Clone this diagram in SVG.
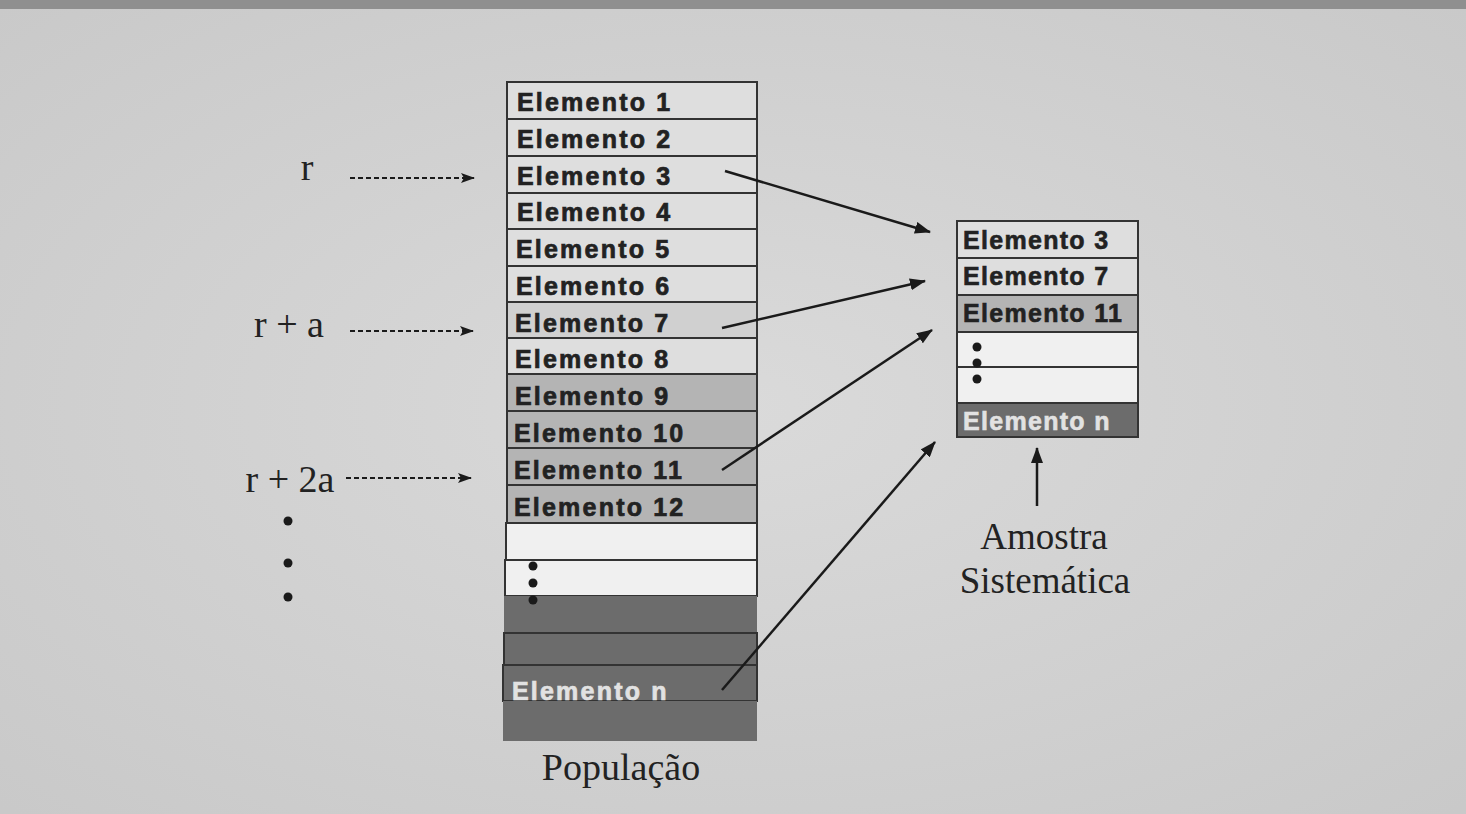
<svg xmlns="http://www.w3.org/2000/svg" width="1466" height="814" viewBox="0 0 1466 814">
<defs>
<style>
.el{font-family:"Liberation Sans",Arial,sans-serif;font-weight:bold;font-size:25px;letter-spacing:2.2px;fill:#222;stroke:#222;stroke-width:0.7}
.el2{font-family:"Liberation Sans",Arial,sans-serif;font-weight:bold;font-size:25px;letter-spacing:1.3px;fill:#222;stroke:#222;stroke-width:0.6}
.wt{fill:#e2e2e2;stroke:#e2e2e2}
.lab{font-family:"Liberation Serif","Times New Roman",serif;font-size:38px;fill:#222}
.row{stroke:#333;stroke-width:2}
.light{fill:#dedede}
.mid{fill:#b4b4b4}
.white{fill:#f0f0f0}
.dark{fill:#6c6c6c}
.dot{fill:#1a1a1a}
.conn{stroke:#1a1a1a;stroke-width:2.5;fill:none}
.dash{stroke:#1a1a1a;stroke-width:2.2;stroke-dasharray:5 3;fill:none}
</style>
<radialGradient id="bg" cx="0.5" cy="0.5" r="0.7">
<stop offset="0" stop-color="#dadada"/>
<stop offset="1" stop-color="#c9c9c9"/>
</radialGradient>
<marker id="ah" markerWidth="14" markerHeight="10" refX="13" refY="5" orient="auto" markerUnits="userSpaceOnUse" viewBox="0 0 14 10">
<path d="M0,0 L14,5 L0,10 L3,5 Z" fill="#1a1a1a"/>
</marker>
<marker id="ahL" markerWidth="16" markerHeight="12" refX="15" refY="6" orient="auto" markerUnits="userSpaceOnUse" viewBox="0 0 16 12">
<path d="M0,0 L16,6 L0,12 Z" fill="#1a1a1a"/>
</marker>
</defs>
<rect x="0" y="0" width="1466" height="814" fill="url(#bg)"/>
<rect x="0" y="0" width="1466" height="9" fill="#8f8f8f"/>

<g id="populacao">
<rect class="row light" x="507" y="82" width="250" height="37"/>
<rect class="row light" x="507" y="119" width="250" height="37"/>
<rect class="row light" x="507" y="156" width="250" height="37"/>
<rect class="row light" x="507" y="193" width="250" height="36"/>
<rect class="row light" x="507" y="229" width="250" height="37"/>
<rect class="row light" x="507" y="266" width="250" height="36"/>
<rect class="row" fill="#d0d0d0" x="507" y="302" width="250" height="36"/>
<rect class="row light" x="507" y="338" width="250" height="36"/>
<rect class="row mid" x="507" y="374" width="250" height="37"/>
<rect class="row mid" x="507" y="411" width="250" height="37"/>
<rect class="row mid" x="507" y="448" width="250" height="37"/>
<rect class="row mid" x="507" y="485" width="250" height="38"/>
<rect class="row white" x="506" y="523" width="251" height="37"/>
<rect class="row white" x="505" y="560" width="252" height="36"/>
<rect class="dark" x="504" y="596" width="253" height="37"/>
<rect class="row dark" x="504" y="633" width="253" height="32"/>
<rect class="row dark" x="503" y="665" width="254" height="36"/>
<rect class="dark" x="503" y="701" width="254" height="40"/>
<text class="el" x="517" y="111">Elemento 1</text>
<text class="el" x="517" y="148">Elemento 2</text>
<text class="el" x="517" y="185">Elemento 3</text>
<text class="el" x="517" y="221">Elemento 4</text>
<text class="el" x="516" y="258">Elemento 5</text>
<text class="el" x="516" y="295">Elemento 6</text>
<text class="el" x="515" y="332">Elemento 7</text>
<text class="el" x="515" y="368">Elemento 8</text>
<text class="el" x="515" y="405">Elemento 9</text>
<text class="el" x="514" y="442">Elemento 10</text>
<text class="el" x="514" y="479">Elemento 11</text>
<text class="el" x="514" y="516">Elemento 12</text>
<text class="el wt" x="512" y="700">Elemento n</text>
<circle class="dot" cx="533" cy="566" r="4.5"/>
<circle class="dot" cx="533" cy="583" r="4.5"/>
<circle class="dot" cx="533" cy="600" r="4.5"/>
<text class="lab" x="621" y="780" text-anchor="middle">População</text>
</g>

<g id="amostra">
<rect class="row light" x="957" y="221" width="181" height="37"/>
<rect class="row light" x="957" y="258" width="181" height="37"/>
<rect class="row mid" x="957" y="295" width="181" height="37"/>
<rect class="row white" x="957" y="332" width="181" height="35"/>
<rect class="row white" x="957" y="367" width="181" height="36"/>
<rect class="row dark" x="957" y="403" width="181" height="34"/>
<text class="el2" x="963" y="249">Elemento 3</text>
<text class="el2" x="963" y="285">Elemento 7</text>
<text class="el2" x="963" y="322">Elemento 11</text>
<text class="el2 wt" x="963" y="430">Elemento n</text>
<circle class="dot" cx="977" cy="347" r="4.5"/>
<circle class="dot" cx="977" cy="363" r="4.5"/>
<circle class="dot" cx="977" cy="379" r="4.5"/>
<text class="lab" x="1044" y="549" text-anchor="middle" style="font-size:37px">Amostra</text>
<text class="lab" x="1045" y="593" text-anchor="middle" style="font-size:37px">Sistemática</text>
</g>

<g id="indices">
<text class="lab" x="307" y="180" text-anchor="middle">r</text>
<text class="lab" x="289" y="337" text-anchor="middle">r + a</text>
<text class="lab" x="290" y="492" text-anchor="middle">r + 2a</text>
<circle class="dot" cx="288" cy="521" r="4.5"/>
<circle class="dot" cx="288" cy="563" r="4.5"/>
<circle class="dot" cx="288" cy="597" r="4.5"/>
</g>

<g id="connectors">
<path class="dash" d="M350,178 L474,178" marker-end="url(#ah)"/>
<path class="dash" d="M350,331 L473,331" marker-end="url(#ah)"/>
<path class="dash" d="M346,478 L471,478" marker-end="url(#ah)"/>
<path class="conn" d="M725,171 L930,232" marker-end="url(#ahL)"/>
<path class="conn" d="M722,328 L925,281" marker-end="url(#ahL)"/>
<path class="conn" d="M722,470 L932,330" marker-end="url(#ahL)"/>
<path class="conn" d="M722,690 L935,442" marker-end="url(#ahL)"/>
<path class="conn" stroke-width="3" d="M1037,506 L1037,448" marker-end="url(#ahL)"/>
</g>
</svg>
